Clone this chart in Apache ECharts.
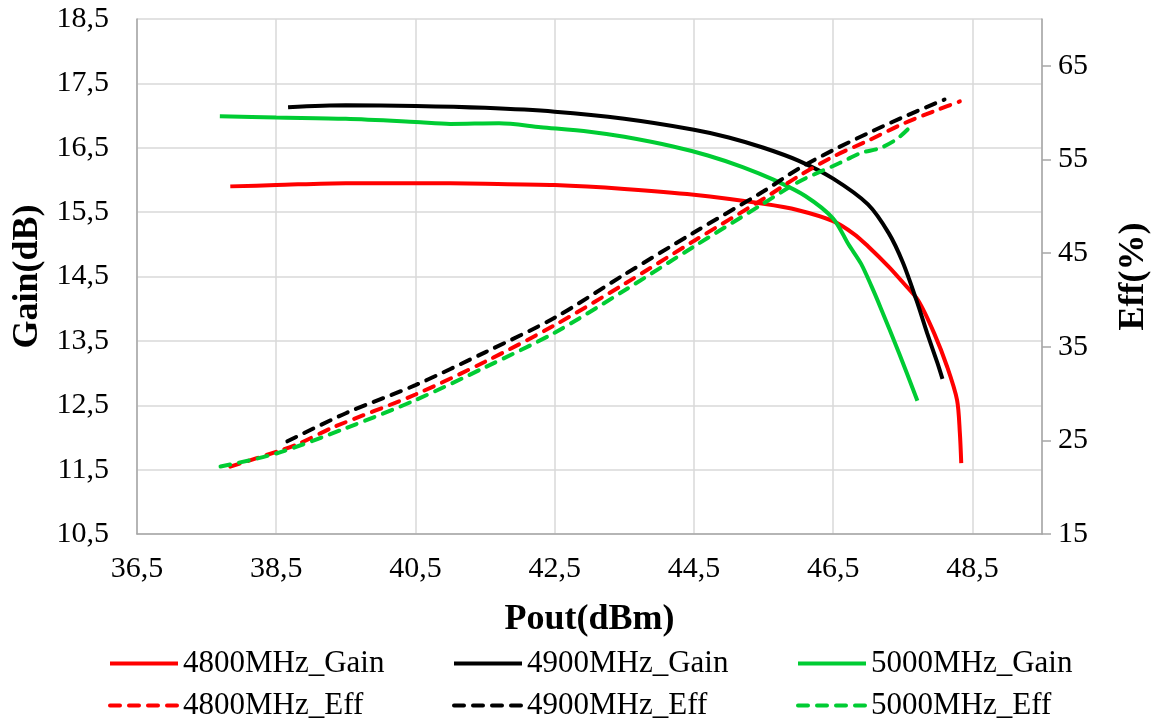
<!DOCTYPE html>
<html>
<head>
<meta charset="utf-8">
<script src="https://cdn.jsdelivr.net/npm/echarts@6/dist/echarts.min.js"></script>
<style>
  html, body { margin: 0; padding: 0; background: #fff; }
  #chart { width: 1152px; height: 725px; }
</style>
</head>
<body>
<div id="chart"></div>
<script>
// Pout (dBm) vs Gain (dB)
const gain4800 = [
  [37.84, 15.90], [38.5, 15.92], [39.5, 15.95], [40.5, 15.95], [41.5, 15.94],
  [42.5, 15.92], [43.5, 15.86], [44.5, 15.77], [45.5, 15.63], [46.0, 15.53],
  [46.5, 15.36], [46.8, 15.16], [47.0, 14.97], [47.3, 14.65], [47.5, 14.41],
  [47.72, 14.13], [47.95, 13.62], [48.14, 13.09], [48.28, 12.58], [48.32, 12.07],
  [48.34, 11.60]
];
const gain4900 = [
  [38.67, 17.13], [39.5, 17.16], [40.5, 17.15], [41.5, 17.12], [42.5, 17.06],
  [43.5, 16.95], [44.5, 16.78], [45.0, 16.66], [45.5, 16.50], [46.0, 16.30],
  [46.5, 16.02], [47.0, 15.62], [47.3, 15.17], [47.5, 14.72], [47.7, 14.12],
  [47.85, 13.62], [48.0, 13.15], [48.07, 12.91]
];
const gain5000 = [
  [37.69, 16.99], [38.5, 16.97], [39.5, 16.95], [40.5, 16.90], [41.0, 16.87],
  [41.7, 16.88], [42.3, 16.82], [43.0, 16.75], [43.5, 16.67], [44.2, 16.52],
  [44.7, 16.38], [45.2, 16.20], [45.65, 16.00], [46.1, 15.75], [46.5, 15.40],
  [46.72, 15.00], [46.9, 14.70], [47.05, 14.35], [47.18, 14.02], [47.45, 13.30],
  [47.71, 12.57]
];
// Pout (dBm) vs Eff (%)
const eff4800 = [
  [37.84, 22.2], [38.51, 23.8], [38.84, 24.7], [39.32, 26.4], [40.5, 29.9],
  [41.5, 33.4], [42.5, 37.3], [43.5, 41.7], [44.5, 46.3], [45.5, 50.8],
  [46.0, 53.2], [46.5, 55.3], [47.0, 57.0], [47.5, 58.8], [48.0, 60.3],
  [48.32, 61.2]
];
const eff4900 = [
  [38.66, 24.9], [39.5, 27.9], [40.5, 30.9], [41.5, 34.4], [42.5, 38.1],
  [43.5, 42.7], [44.5, 47.2], [45.5, 51.6], [46.0, 54.0], [46.5, 56.0],
  [47.0, 57.8], [47.5, 59.5], [48.1, 61.4]
];
const eff5000 = [
  [37.7, 22.2], [38.5, 23.6], [39.5, 26.3], [40.5, 29.3], [41.5, 32.8],
  [42.5, 36.5], [43.5, 41.0], [44.5, 45.7], [45.5, 50.3], [46.0, 52.6],
  [46.5, 54.3], [46.7, 55.0], [46.9, 55.7], [47.17, 56.2], [47.4, 57.1],
  [47.57, 58.2]
];

const names = ['4800MHz_Gain', '4900MHz_Gain', '5000MHz_Gain',
               '4800MHz_Eff', '4900MHz_Eff', '5000MHz_Eff'];
const colors = ['#FF0000', '#000000', '#00CC33'];

const font = 'Liberation Serif';
const comma = v => v.toFixed(1).replace('.', ',');

const chart = echarts.init(document.getElementById('chart'));

const gainData = [gain4800, gain4900, gain5000];
const effData = [eff4800, eff4900, eff5000];
const series = [];
gainData.forEach((d, i) => {
  series.push({
    name: names[i], type: 'line', yAxisIndex: 0, data: d,
    showSymbol: false, symbol: 'none', smooth: 0.3,
    lineStyle: { color: colors[i], width: 4 }, itemStyle: { color: colors[i] }
  });
});
effData.forEach((d, i) => {
  series.push({
    name: names[i + 3], type: 'line', yAxisIndex: 1, data: d,
    showSymbol: false, symbol: 'none', smooth: 0.3,
    lineStyle: { color: colors[i], width: 4, type: [10, 9], cap: 'round' },
    itemStyle: { color: colors[i] }
  });
});

const legendLeft = [108, 452, 796];
const legendTop = [648, 690];
const legends = names.map((n, k) => ({
  data: [n],
  left: legendLeft[k % 3],
  top: legendTop[Math.floor(k / 3)],
  padding: 0,
  itemWidth: 68,
  itemHeight: 14,
  itemGap: 0,
  itemStyle: { opacity: 0 },
  lineStyle: { width: 4 },
  textStyle: { fontFamily: font, fontSize: 31, color: '#000', padding: [0, 0, 0, 0] }
}));

const option = {
  animation: false,
  backgroundColor: '#fff',
  grid: { left: 137, right: 110, top: 19, bottom: 191, outerBoundsMode: 'none', containLabel: false },
  legend: legends,
  xAxis: {
    type: 'value', min: 36.5, max: 49.5, interval: 2,
    name: 'Pout(dBm)', nameLocation: 'middle', nameGap: 68,
    nameTextStyle: { fontFamily: font, fontSize: 36, fontWeight: 'bold', color: '#000' },
    axisLine: { show: true, lineStyle: { color: '#A6A6A6', width: 1.5 } },
    axisTick: { show: false },
    splitLine: { show: true, lineStyle: { color: '#D9D9D9', width: 1.5 } },
    axisLabel: {
      fontFamily: font, fontSize: 30, color: '#000', margin: 20,
      showMaxLabel: false, formatter: comma
    }
  },
  yAxis: [
    {
      type: 'value', min: 10.5, max: 18.5, interval: 1,
      name: 'Gain(dB)', nameLocation: 'middle', nameGap: 88, nameRotate: 90,
      nameTextStyle: { fontFamily: font, fontSize: 36, fontWeight: 'bold', color: '#000' },
      axisLine: { show: true, lineStyle: { color: '#A6A6A6', width: 1.5 } },
      axisTick: { show: false },
      splitLine: { show: true, lineStyle: { color: '#D9D9D9', width: 1.5 } },
      axisLabel: { fontFamily: font, fontSize: 30, color: '#000', margin: 28, formatter: comma }
    },
    {
      type: 'value', min: 15, max: 70, interval: 10, position: 'right',
      name: 'Eff(%)', nameLocation: 'middle', nameGap: 74, nameRotate: 90,
      nameTextStyle: { fontFamily: font, fontSize: 36, fontWeight: 'bold', color: '#000' },
      axisLine: { show: true, lineStyle: { color: '#A6A6A6', width: 1.5 } },
      axisTick: { show: true, inside: false, length: 9, lineStyle: { color: '#A6A6A6', width: 1.5 } },
      splitLine: { show: false },
      axisLabel: { fontFamily: font, fontSize: 30, color: '#000', margin: 16, showMaxLabel: false }
    }
  ],
  series: series
};

chart.setOption(option);
window.addEventListener('resize', () => chart.resize());
</script>
</body>
</html>
